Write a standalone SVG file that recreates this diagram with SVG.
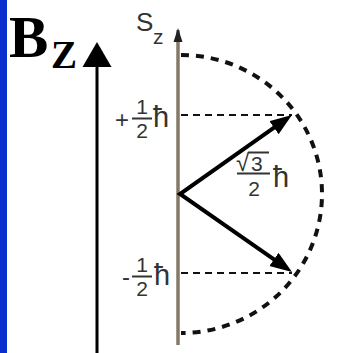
<svg xmlns="http://www.w3.org/2000/svg" width="342" height="353" viewBox="0 0 342 353">
<style>
.lbl{font-family:"Liberation Sans","DejaVu Sans",Arial,sans-serif;fill:#333;}
.dig{font-size:21px;}
.sgn{font-size:24px;}
.hb{font-size:29px;}
.bar{stroke:#333;stroke-width:2;}
.dash{fill:none;stroke:#111;stroke-width:2;stroke-dasharray:7 5;}
.circ{fill:none;stroke:#111;stroke-width:4;stroke-dasharray:8 7;}
.vec{fill:none;stroke:#000;stroke-width:4;stroke-linejoin:miter;}
</style>
<defs>
<marker id="ah" markerUnits="userSpaceOnUse" markerWidth="24" markerHeight="18" refX="7" refY="8" orient="auto-start-reverse">
<path d="M0,0 L22,8 L0,16 Z" fill="#000"/>
</marker>
</defs>
<rect x="0" y="0" width="7" height="353" fill="#0a2fcc"/>
<g id="bz-axis">
<line x1="97" y1="353" x2="97" y2="62" stroke="#000" stroke-width="3"/>
<polygon points="97,42 111.5,67 82.5,67" fill="#000"/>
<text x="9" y="57" font-family="'Liberation Serif','Times New Roman',serif" font-weight="bold" font-size="59" fill="#000">B</text>
<text x="51" y="68" font-family="'Liberation Serif','Times New Roman',serif" font-weight="bold" font-size="39" fill="#000">Z</text>
</g>
<g id="sz-axis">
<line x1="178" y1="30" x2="178" y2="345" stroke="#857866" stroke-width="3.5"/>
<polygon points="178,28 182.5,42 173.5,42" fill="#222"/>
<text class="lbl" x="136" y="31" font-size="26">S</text>
<text class="lbl" x="153" y="44" font-size="21">z</text>
</g>
<g id="circle">
<path class="circ" d="M181,55 A141,139 0 0 1 181,333"/>
</g>
<g id="levels">
<line class="dash" x1="181" y1="115" x2="292" y2="115"/>
<line class="dash" x1="181" y1="273" x2="292" y2="273"/>
</g>
<g id="plus-half">
<text class="lbl sgn" x="115" y="128">+</text>
<text class="lbl dig" x="142" y="114" text-anchor="middle">1</text>
<line class="bar" x1="132" y1="118.5" x2="152" y2="118.5"/>
<text class="lbl dig" x="142" y="138" text-anchor="middle">2</text>
<text class="lbl hb" x="153" y="127">ħ</text>
</g>
<g id="minus-half">
<text class="lbl sgn" x="122" y="285">-</text>
<text class="lbl dig" x="142" y="272" text-anchor="middle">1</text>
<line class="bar" x1="132" y1="276.5" x2="152" y2="276.5"/>
<text class="lbl dig" x="142" y="296" text-anchor="middle">2</text>
<text class="lbl hb" x="154" y="285">ħ</text>
</g>
<g id="connectors">
<path class="vec" d="M279.7,123.6 L180,194 L279.7,263.4" marker-start="url(#ah)" marker-end="url(#ah)"/>
</g>
<g id="magnitude">
<text class="lbl" x="236" y="171" font-size="24">√</text>
<line class="bar" x1="248" y1="152.5" x2="269" y2="152.5"/>
<text class="lbl dig" x="251" y="171">3</text>
<line class="bar" x1="237" y1="173.5" x2="270" y2="173.5"/>
<text class="lbl dig" x="254" y="196" text-anchor="middle">2</text>
<text class="lbl hb" x="273" y="187">ħ</text>
</g>
</svg>
